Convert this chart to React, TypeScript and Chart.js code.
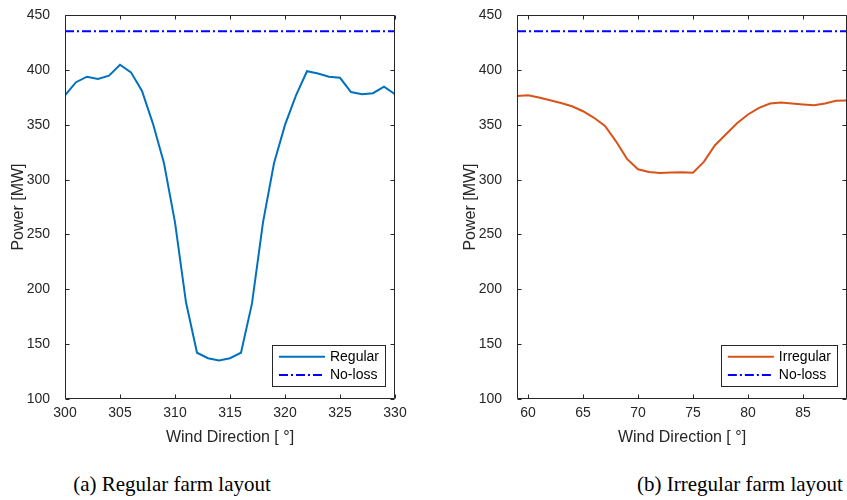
import React, { useEffect, useRef } from "react";
import { Chart, registerables } from "chart.js";

Chart.register(...registerables);

// ---------- data ----------
const regularDirections = [300, 301, 302, 303, 304, 305, 306, 307, 308, 309, 310, 311, 312, 313, 314, 315, 316, 317, 318, 319, 320, 321, 322, 323, 324, 325, 326, 327, 328, 329, 330];
const regularPower = [377, 389, 394, 392, 395, 405, 398, 381, 351, 315, 261, 188, 142, 137, 135, 137, 142, 187, 261, 315, 350, 377, 399, 397, 394, 393, 380, 378, 379, 385, 378];

const irregularDirections = [59, 60, 61, 62, 63, 64, 65, 66, 67, 68, 69, 70, 71, 72, 73, 74, 75, 76, 77, 78, 79, 80, 81, 82, 83, 84, 85, 86, 87, 88, 89];
const irregularPower = [376.5, 377, 375, 372.5, 370, 367, 362.5, 356.5, 349, 335, 319, 309.5, 307, 306.2, 306.5, 306.8, 306.3, 316.5, 331.5, 341.5, 351.5, 359.5, 365.5, 369.5, 370.5, 369.6, 368.7, 368, 369.6, 372, 372.3];

const noLossPower = 435.6;

const powerTicks = [100, 150, 200, 250, 300, 350, 400, 450];
const regularDirTicks = [300, 305, 310, 315, 320, 325, 330];
const irregularDirTicks = [60, 65, 70, 75, 80, 85];

// ---------- styles ----------
const FONT = "'Liberation Sans', Arial, Helvetica, sans-serif";
const AXIS = "#262626";

const matlabPlugin = {
  id: "matlabBox",
  afterDraw(chart: any) {
    const { ctx, chartArea: a, scales } = chart;
    ctx.save();
    ctx.strokeStyle = AXIS;
    ctx.lineWidth = 1;
    const L = Math.round(a.left) + 0.5;
    const R = Math.round(a.right) - 0.5;
    const T = Math.round(a.top) + 0.5;
    const B = Math.round(a.bottom) - 0.5;
    ctx.beginPath();
    ctx.rect(L, T, R - L, B - T);
    ctx.stroke();
    const tl = 4;
    ctx.beginPath();
    for (const t of scales.x.ticks) {
      const px = Math.round(scales.x.getPixelForValue(t.value)) + 0.5;
      ctx.moveTo(px, B);
      ctx.lineTo(px, B - tl);
      ctx.moveTo(px, T);
      ctx.lineTo(px, T + tl);
    }
    for (const t of scales.y.ticks) {
      const py = Math.round(scales.y.getPixelForValue(t.value)) + 0.5;
      ctx.moveTo(L, py);
      ctx.lineTo(L + tl, py);
      ctx.moveTo(R, py);
      ctx.lineTo(R - tl, py);
    }
    ctx.stroke();

    // legend box
    const opts = chart.options.plugins.matlabBox || {};
    const fontSize = 14;
    ctx.font = `${fontSize}px ${FONT}`;
    const ds = chart.data.datasets;
    const textW = Math.max(...ds.map((d: any) => ctx.measureText(d.label).width));
    const padL = 6.5, lineLen = 46, gap = 5, padR = 6;
    const w = padL + lineLen + gap + textW + padR;
    const h = 41;
    const x1 = a.right - opts.right - w;
    const y1 = a.bottom - opts.bottom - h;
    ctx.fillStyle = "#ffffff";
    ctx.fillRect(x1, y1, w, h);
    ctx.strokeStyle = AXIS;
    ctx.lineWidth = 1;
    ctx.strokeRect(Math.round(x1) + 0.5, Math.round(y1) + 0.5, Math.round(w), Math.round(h));
    const rows = [11.7, 30];
    ds.forEach((d: any, i: number) => {
      const ry = y1 + rows[i];
      ctx.save();
      ctx.strokeStyle = d.borderColor;
      ctx.lineWidth = d.borderWidth;
      ctx.setLineDash(d.borderDash || []);
      ctx.beginPath();
      ctx.moveTo(x1 + padL, ry);
      ctx.lineTo(x1 + padL + lineLen, ry);
      ctx.stroke();
      ctx.restore();
      ctx.fillStyle = "#000000";
      ctx.textAlign = "left";
      ctx.textBaseline = "middle";
      ctx.fillText(d.label, x1 + padL + lineLen + gap, ry + 0.5);
    });
    ctx.restore();
  },
};

function makeConfig(
  dirs: number[],
  power: number[],
  label: string,
  color: string,
  xMin: number,
  xMax: number,
  xTicks: number[],
  padRight: number
): any {
  return {
    type: "line",
    data: {
      datasets: [
        {
          label,
          data: dirs.map((d, i) => ({ x: d, y: power[i] })),
          borderColor: color,
          borderWidth: 2,
          pointRadius: 0,
          tension: 0,
          fill: false,
        },
        {
          label: "No-loss",
          data: [
            { x: xMin, y: noLossPower },
            { x: xMax, y: noLossPower },
          ],
          borderColor: "#0000ff",
          borderWidth: 2,
          borderDash: [9, 3, 2, 3],
          pointRadius: 0,
          tension: 0,
          fill: false,
        },
      ],
    },
    options: {
      responsive: false,
      animation: false,
      devicePixelRatio: 1,
      layout: { padding: { left: 0, right: padRight, top: 15.3, bottom: 1.3 } },
      plugins: {
        legend: { display: false },
        tooltip: { enabled: false },
        matlabBox: { right: 10, bottom: 12.7 },
      },
      scales: {
        x: {
          type: "linear",
          min: xMin,
          max: xMax,
          grid: { display: false },
          border: { display: false },
          afterBuildTicks: (s: any) => {
            s.ticks = xTicks.map((v) => ({ value: v }));
          },
          afterFit: (s: any) => {
            s.height = 50;
          },
          ticks: {
            font: { family: FONT, size: 14 },
            color: AXIS,
            padding: -2,
            maxRotation: 0,
            autoSkip: false,
          },
          title: {
            display: true,
            text: "Wind Direction [ °]",
            font: { family: FONT, size: 16 },
            color: AXIS,
            padding: { top: 0, bottom: 2 },
          },
        },
        y: {
          type: "linear",
          min: 100,
          max: 450,
          grid: { display: false },
          border: { display: false },
          afterBuildTicks: (s: any) => {
            s.ticks = powerTicks.map((v) => ({ value: v }));
          },
          afterFit: (s: any) => {
            s.width = 65;
          },
          ticks: {
            font: { family: FONT, size: 14 },
            color: AXIS,
            padding: 7,
            autoSkip: false,
          },
          title: {
            display: true,
            text: "Power [MW]",
            font: { family: FONT, size: 16 },
            color: AXIS,
            padding: { top: 8.7, bottom: 0 },
          },
        },
      },
    },
    plugins: [matlabPlugin],
  };
}

function ChartCanvas(props: { config: () => any; left: number; width: number; height: number }) {
  const ref = useRef<HTMLCanvasElement | null>(null);
  useEffect(() => {
    if (!ref.current) return;
    const chart = new Chart(ref.current, props.config());
    return () => chart.destroy();
  }, []);
  return (
    <canvas
      ref={ref}
      width={props.width}
      height={props.height}
      style={{ position: "absolute", left: props.left, top: 0, width: props.width, height: props.height, display: "block" }}
    />
  );
}

const captionStyle: React.CSSProperties = {
  position: "absolute",
  top: 471,
  transform: "translateX(-50%)",
  whiteSpace: "nowrap",
  fontFamily: "'Liberation Serif', 'Times New Roman', serif",
  fontSize: 21,
  lineHeight: "26px",
  color: "#000",
};

export default function App() {
  return (
    <div style={{ position: "absolute", left: 0, top: 0, width: 847, height: 500, overflow: "hidden", background: "#fff" }}>
      <ChartCanvas
        left={0}
        width={420}
        height={450}
        config={() =>
          makeConfig(regularDirections, regularPower, "Regular", "#0072BD", 300, 330, regularDirTicks, 25)
        }
      />
      <ChartCanvas
        left={452}
        width={395}
        height={450}
        config={() =>
          makeConfig(irregularDirections, irregularPower, "Irregular", "#D95319", 59, 89, irregularDirTicks, 0)
        }
      />
      <div style={{ ...captionStyle, left: 172 }}>(a) Regular farm layout</div>
      <div style={{ ...captionStyle, left: 740 }}>(b) Irregular farm layout</div>
    </div>
  );
}
